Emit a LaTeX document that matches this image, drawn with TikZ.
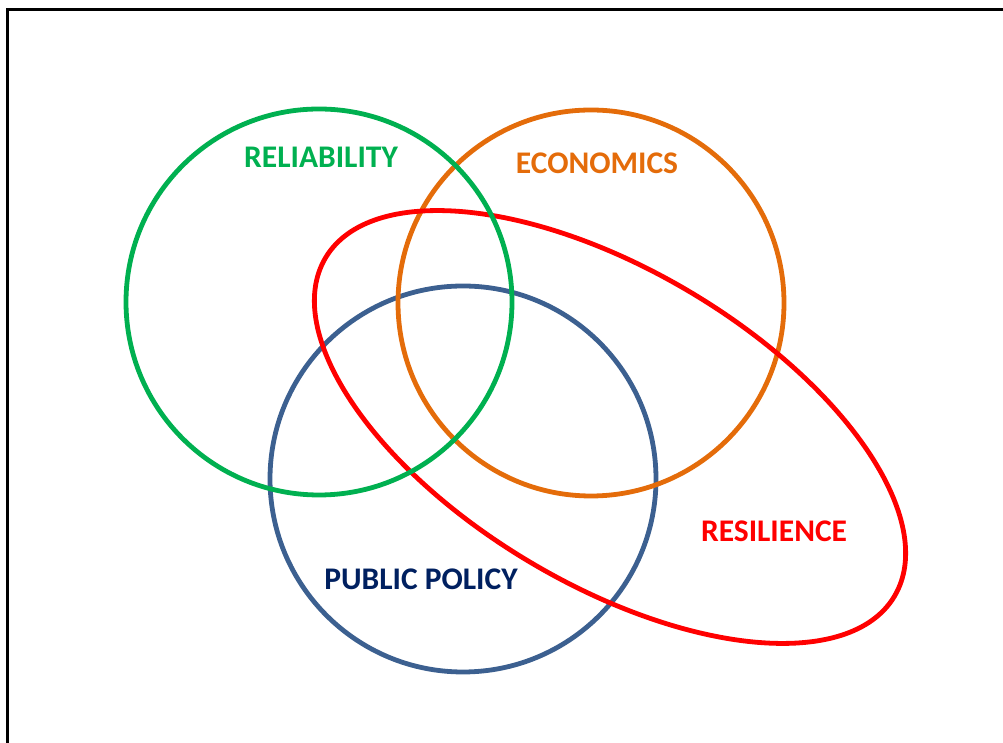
\documentclass[tikz,border=0pt]{standalone}
\usepackage{fontspec}
\setmainfont{Carlito}
\definecolor{relgreen}{RGB}{0,176,80}
\definecolor{ecoorange}{RGB}{228,108,10}
\definecolor{resred}{RGB}{255,0,0}
\definecolor{polblue}{RGB}{60,96,144}
\definecolor{polnavy}{RGB}{0,32,96}
\tikzset{
  ring/.style={line width=4.8pt},
  lbl/.style={font=\fontsize{31.5}{37}\selectfont\bfseries, inner sep=0pt}
}
\begin{document}
\begin{tikzpicture}[x=1pt,y=1pt]
\useasboundingbox (0,0) rectangle (1003,743);
\begin{scope}
\clip (0,0) rectangle (1003,743);
\draw[line width=2.5pt] (7.5,-20) -- (7.5,733.5) -- (1020,733.5);
\end{scope}
% circles (image y -> 743 - y)
\draw[ring, polblue] (463,264) circle (193);
\draw[ring, ecoorange] (591,440) circle (193);
\draw[ring, resred, rotate around={-30.75:(610,316)}] (610,316) ellipse (331 and 157);
\draw[ring, relgreen] (319,441) circle (193);
% labels
\node[lbl, text=relgreen] (rel) at (321,586) {RELIABILITY};
\node[lbl, text=ecoorange] (eco) at (597,580) {ECONOMICS};
\node[lbl, text=resred] (res) at (774,212) {RESILIENCE};
\node[lbl, text=polnavy] (pol) at (421,164) {PUBLIC POLICY};
\end{tikzpicture}
\end{document}
